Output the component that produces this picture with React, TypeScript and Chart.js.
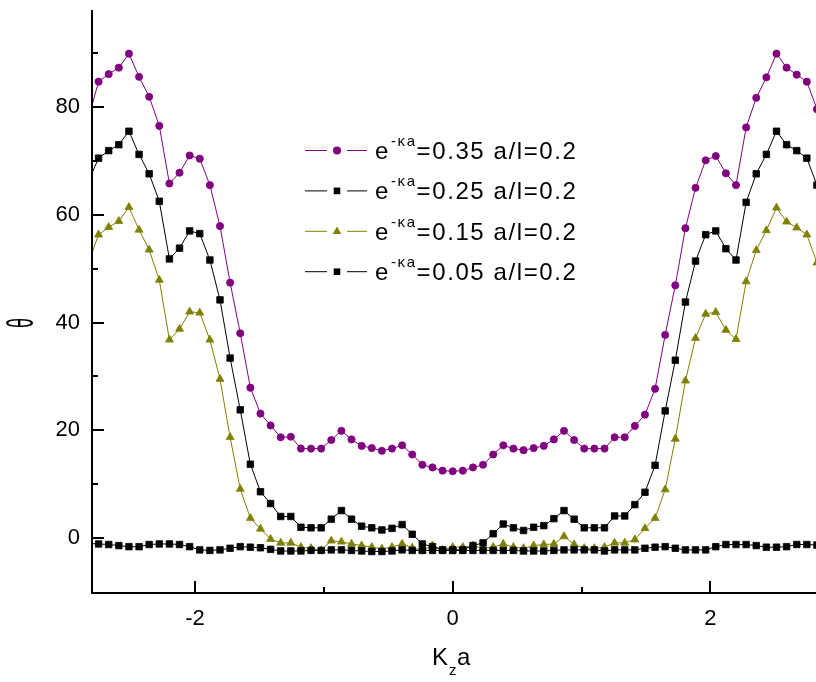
import { useEffect, useRef } from 'react';
import { Chart, registerables } from 'chart.js';

Chart.register(...registerables);

// Kz*a sample positions (k * pi/40, k = -36..36)
const KZA = [
  -2.8274, -2.7489, -2.6704, -2.5918, -2.5133, -2.4347, -2.3562, -2.2777, -2.1991, -2.1206,
  -2.042, -1.9635, -1.885, -1.8064, -1.7279, -1.6493, -1.5708, -1.4923, -1.4137, -1.3352,
  -1.2566, -1.1781, -1.0996, -1.021, -0.9425, -0.8639, -0.7854, -0.7069, -0.6283, -0.5498,
  -0.4712, -0.3927, -0.3142, -0.2356, -0.1571, -0.0785, 0,
  0.0785, 0.1571, 0.2356, 0.3142, 0.3927, 0.4712, 0.5498, 0.6283, 0.7069, 0.7854,
  0.8639, 0.9425, 1.021, 1.0996, 1.1781, 1.2566, 1.3352, 1.4137, 1.4923, 1.5708,
  1.6493, 1.7279, 1.8064, 1.885, 1.9635, 2.042, 2.1206, 2.1991, 2.2777, 2.3562,
  2.4347, 2.5133, 2.5918, 2.6704, 2.7489, 2.8274,
];

const THETA_035 = [
  78.0, 84.7, 86.1, 87.3, 89.9, 85.6, 81.9, 76.5, 65.8, 67.8,
  71.0, 70.4, 65.5, 57.9, 47.4, 38.0, 27.9, 23.1, 20.9, 18.7,
  18.8, 16.6, 16.6, 16.6, 18.2, 19.9, 18.3, 17.1, 16.7, 16.2,
  16.6, 17.2, 15.5, 13.6, 13.1, 12.5, 12.4,
  12.5, 13.1, 13.6, 15.5, 17.2, 16.6, 16.3, 16.7, 17.1, 18.3,
  19.9, 18.2, 16.6, 16.6, 16.6, 18.7, 18.7, 20.8, 22.9, 27.7,
  37.7, 46.9, 57.5, 65.0, 70.1, 70.9, 67.7, 65.5, 76.2, 81.7,
  85.5, 89.9, 87.3, 86.0, 84.7, 79.6,
];

const THETA_025 = [
  66.3, 70.5, 71.9, 73.0, 75.5, 71.2, 67.6, 62.5, 51.8, 53.8,
  57.0, 56.5, 51.6, 44.2, 33.4, 23.8, 13.7, 8.6, 6.4, 4.0,
  4.0, 2.0, 1.9, 1.9, 3.5, 5.1, 3.5, 2.2, 1.9, 1.5,
  1.8, 2.5, 0.7, -1.1, -1.6, -2.2, -2.2,
  -2.2, -1.4, -0.9, 0.8, 2.6, 1.9, 1.4, 2.0, 2.3, 3.6,
  5.1, 3.5, 1.9, 1.9, 1.9, 4.1, 4.1, 6.2, 8.5, 13.5,
  23.6, 33.0, 43.8, 51.4, 56.3, 57.0, 53.7, 51.6, 62.3, 67.6,
  71.2, 75.5, 73.0, 71.9, 70.5, 65.5,
];

const THETA_015 = [
  51.1, 56.3, 57.7, 58.8, 61.4, 57.2, 53.5, 47.9, 36.8, 38.8,
  42.0, 41.8, 36.8, 29.5, 18.7, 9.1, 3.7, 1.7, -0.2, -0.9,
  -0.9, -1.7, -1.9, -2.3, -0.5, -0.7, -1.1, -1.4, -1.7, -2.0,
  -1.7, -1.1, -1.8, -2.3, -1.4, -2.2, -1.7,
  -1.7, -1.4, -1.9, -1.7, -1.1, -1.7, -1.9, -1.4, -1.2, -1.1,
  0.3, -1.2, -1.9, -1.9, -1.7, -0.9, -0.9, -0.3, 1.8, 3.7,
  9.0, 18.4, 29.2, 37.1, 41.6, 41.9, 38.6, 36.9, 47.6, 53.4,
  57.1, 61.3, 58.7, 57.6, 56.3, 51.1,
];

const THETA_005 = [
  -1.0, -1.1, -1.2, -1.4, -1.6, -1.6, -1.2, -1.1, -1.1, -1.2,
  -1.6, -2.2, -2.3, -2.2, -1.9, -1.6, -1.7, -1.8, -2.1, -2.4,
  -2.4, -2.4, -2.3, -2.3, -2.2, -2.2, -2.3, -2.4, -2.5, -2.5,
  -2.4, -2.2, -2.3, -2.3, -2.3, -2.3, -2.3,
  -2.3, -2.3, -2.3, -2.3, -2.3, -2.3, -2.4, -2.4, -2.4, -2.3,
  -2.2, -2.2, -2.2, -2.2, -2.4, -2.2, -2.2, -2.2, -1.9, -1.7,
  -1.6, -1.9, -2.2, -2.2, -2.2, -1.6, -1.2, -1.2, -1.2, -1.4,
  -1.7, -1.7, -1.6, -1.2, -1.2, -1.3,
];

const X_TICKS = [-2, 0, 2];
const X_MINOR = [-1, 1];
const Y_TICKS = [0, 20, 40, 60, 80];
const Y_MINOR = [10, 30, 50, 70, 90];
const LEGEND_E = ['0.35', '0.25', '0.15', '0.05'];
const LEGEND_AL = '0.2';

const PURPLE = '#800080';
const OLIVE = '#808000';
const BLACK = '#000000';
const FONT = '"Liberation Sans", Arial, sans-serif';

const LEGEND_STYLE = [
  { color: PURPLE, shape: 'circle' },
  { color: BLACK, shape: 'rect' },
  { color: OLIVE, shape: 'triangle' },
  { color: BLACK, shape: 'rect' },
];

function drawMarker(ctx: CanvasRenderingContext2D, shape: string, x: number, y: number) {
  ctx.beginPath();
  if (shape === 'circle') {
    ctx.arc(x, y, 4, 0, Math.PI * 2);
  } else if (shape === 'rect') {
    ctx.rect(x - 3.3, y - 3.3, 6.6, 6.6);
  } else {
    ctx.moveTo(x, y - 4.8);
    ctx.lineTo(x + 4.3, y + 2.6);
    ctx.lineTo(x - 4.3, y + 2.6);
    ctx.closePath();
  }
  ctx.fill();
}

const decorPlugin = {
  id: 'decor',
  afterDraw(chart: any) {
    const { ctx, chartArea: a } = chart;
    const xs = chart.scales.x;
    const ys = chart.scales.y;
    ctx.save();
    ctx.strokeStyle = '#000';
    ctx.lineWidth = 2;
    ctx.beginPath();
    ctx.moveTo(a.left, a.top);
    ctx.lineTo(a.left, a.bottom);
    ctx.lineTo(a.right + 2, a.bottom);
    ctx.stroke();
    ctx.beginPath();
    for (const v of Y_TICKS) {
      const p = Math.round(ys.getPixelForValue(v));
      ctx.moveTo(a.left, p);
      ctx.lineTo(a.left + 12, p);
    }
    for (const v of Y_MINOR) {
      const p = Math.round(ys.getPixelForValue(v));
      ctx.moveTo(a.left, p);
      ctx.lineTo(a.left + 6, p);
    }
    for (const v of X_TICKS) {
      const p = Math.round(xs.getPixelForValue(v));
      ctx.moveTo(p, a.bottom);
      ctx.lineTo(p, a.bottom - 12);
    }
    for (const v of X_MINOR) {
      const p = Math.round(xs.getPixelForValue(v));
      ctx.moveTo(p, a.bottom);
      ctx.lineTo(p, a.bottom - 6);
    }
    ctx.stroke();

    // legend
    const mainFont = '24px ' + FONT;
    const supFont = '15px ' + FONT;
    LEGEND_E.forEach((val, i) => {
      const st = LEGEND_STYLE[i];
      const cy = 150.5 + i * 40.4;
      ctx.strokeStyle = st.color;
      ctx.fillStyle = st.color;
      ctx.lineWidth = 1;
      ctx.beginPath();
      ctx.moveTo(305, cy);
      ctx.lineTo(327, cy);
      ctx.moveTo(347, cy);
      ctx.lineTo(367, cy);
      ctx.stroke();
      drawMarker(ctx, st.shape, 337, cy);
      ctx.fillStyle = '#000';
      ctx.textAlign = 'left';
      ctx.textBaseline = 'alphabetic';
      (ctx as any).letterSpacing = '1.6px';
      const base = cy + 8.5;
      let tx = 375;
      ctx.font = mainFont;
      ctx.fillText('e', tx, base);
      tx += ctx.measureText('e').width;
      ctx.font = supFont;
      ctx.fillText('-\u03BAa', tx + 1, base - 13);
      tx += ctx.measureText('-\u03BAa').width + 1;
      ctx.font = mainFont;
      ctx.fillText('=' + val + ' a/l=' + LEGEND_AL, tx, base);
      (ctx as any).letterSpacing = '0px';
    });

    // axis titles (theta lies on its side, as in the reference)
    ctx.fillStyle = '#000';
    ctx.save();
    ctx.translate(23.5, 323);
    ctx.rotate(-Math.PI / 2);
    ctx.scale(0.5, 1);
    ctx.font = '36px ' + FONT;
    ctx.textAlign = 'center';
    ctx.textBaseline = 'middle';
    ctx.fillText('\u03B8', 0, 0);
    ctx.restore();

    ctx.textAlign = 'left';
    ctx.textBaseline = 'alphabetic';
    ctx.font = '24px ' + FONT;
    ctx.fillText('K', 432, 665);
    ctx.font = '15px ' + FONT;
    ctx.fillText('z', 449, 675);
    ctx.font = '24px ' + FONT;
    ctx.fillText('a', 457, 665);
    ctx.restore();
  },
};

function series(vals: number[]) {
  return KZA.map((x, i) => ({ x, y: vals[i] }));
}

function zeroPad(s: any) {
  s.paddingTop = 0;
  s.paddingBottom = 0;
  s.paddingLeft = 0;
  s.paddingRight = 0;
}

export default function App() {
  const ref = useRef<HTMLCanvasElement | null>(null);
  useEffect(() => {
    if (!ref.current) return;
    const chart = new Chart(ref.current, {
      type: 'line',
      data: {
        datasets: [
          {
            label: '0.05',
            data: series(THETA_005),
            borderColor: BLACK,
            backgroundColor: BLACK,
            borderWidth: 1,
            pointStyle: 'rect',
            pointRadius: 4.6,
            pointBorderWidth: 0.8,
            pointBorderColor: BLACK,
            pointBackgroundColor: BLACK,
          },
          {
            label: '0.25',
            data: series(THETA_025),
            borderColor: BLACK,
            backgroundColor: BLACK,
            borderWidth: 1,
            pointStyle: 'rect',
            pointRadius: 4.6,
            pointBorderWidth: 0.8,
            pointBorderColor: BLACK,
            pointBackgroundColor: BLACK,
          },
          {
            label: '0.15',
            data: series(THETA_015),
            borderColor: OLIVE,
            backgroundColor: OLIVE,
            borderWidth: 1,
            pointStyle: 'triangle',
            pointRadius: 4.6,
            pointBorderWidth: 0.8,
            pointBorderColor: OLIVE,
            pointBackgroundColor: OLIVE,
          },
          {
            label: '0.35',
            data: series(THETA_035),
            borderColor: PURPLE,
            backgroundColor: PURPLE,
            borderWidth: 1,
            pointStyle: 'circle',
            pointRadius: 3.6,
            pointBorderWidth: 0.8,
            pointBorderColor: PURPLE,
            pointBackgroundColor: PURPLE,
          },
        ],
      },
      options: {
        responsive: false,
        maintainAspectRatio: false,
        animation: false,
        devicePixelRatio: 1,
        layout: { autoPadding: false, padding: { left: 0, right: 0, top: 10, bottom: 0 } },
        elements: { line: { tension: 0 } },
        plugins: { legend: { display: false }, tooltip: { enabled: false } },
        scales: {
          x: {
            type: 'linear',
            min: -2.8,
            max: 2.82,
            grid: { display: false, drawTicks: false },
            border: { display: false },
            afterBuildTicks: (s: any) => {
              s.ticks = X_TICKS.map((v) => ({ value: v }));
            },
            afterFit: (s: any) => {
              s.height = 89;
              zeroPad(s);
            },
            ticks: {
              padding: 13,
              color: '#000',
              font: { family: FONT, size: 22 },
              maxRotation: 0,
              callback: (v: any) => String(v),
            },
          },
          y: {
            type: 'linear',
            min: -10.2,
            max: 98,
            grid: { display: false, drawTicks: false },
            border: { display: false },
            afterBuildTicks: (s: any) => {
              s.ticks = Y_TICKS.map((v) => ({ value: v }));
            },
            afterFit: (s: any) => {
              s.width = 92;
              zeroPad(s);
            },
            ticks: {
              padding: 12,
              color: '#000',
              font: { family: FONT, size: 22 },
              callback: (v: any) => String(v),
            },
          },
        },
      },
      plugins: [decorPlugin],
    } as any);
    return () => chart.destroy();
  }, []);
  return (
    <div style={{ position: 'fixed', left: 0, top: 0, width: 816, height: 682, background: '#fff' }}>
      <canvas ref={ref} width={816} height={682} style={{ display: 'block' }} />
    </div>
  );
}
